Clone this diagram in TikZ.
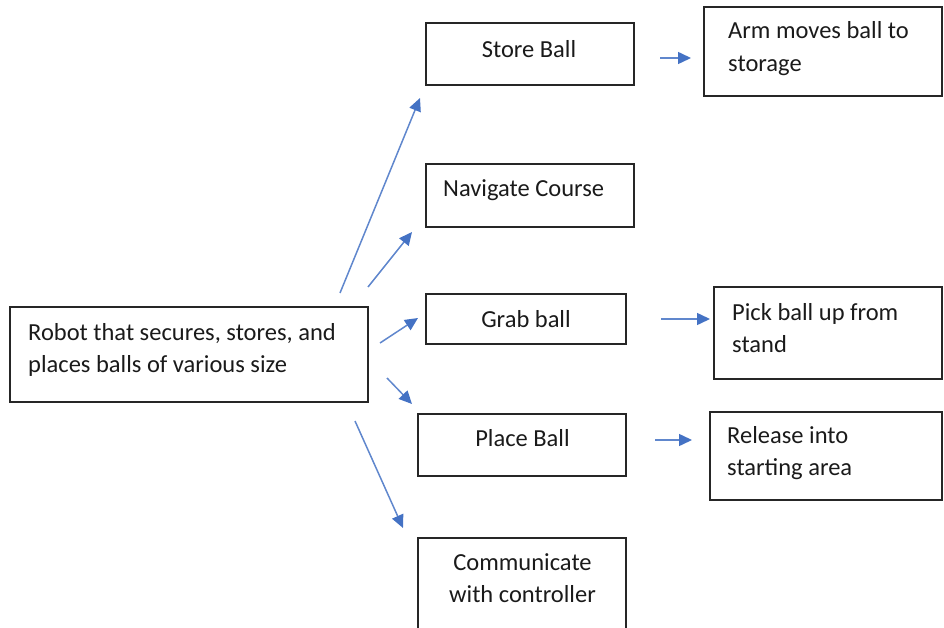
\documentclass[tikz,border=0pt]{standalone}
\usepackage{fontspec}
\setmainfont{Carlito}
\usetikzlibrary{arrows.meta}
\definecolor{arrowblue}{HTML}{4472C4}
\definecolor{txt}{HTML}{1A1A1A}
\tikzset{
  box/.style={draw=black!85, line width=1.6pt, inner sep=0pt},
  lbl/.style={text=txt, inner sep=0pt, font=\fontsize{24.5}{32.5}\selectfont},
  conn/.style={draw=arrowblue!85, line width=1.5pt,
    -{Triangle[length=13pt,width=12pt,color=arrowblue]}},
}
\begin{document}
\begin{tikzpicture}[x=1pt,y=-1pt]
\useasboundingbox (0,0) rectangle (944,628);
\clip (0,0) rectangle (944,628);
% boxes
\node[box, minimum width=358, minimum height=95] (root) at (189,354.5) {};
\node[box, minimum width=208, minimum height=62] (store) at (530,54) {};
\node[box, minimum width=208, minimum height=63] (nav) at (530,195.5) {};
\node[box, minimum width=238, minimum height=89] (arm) at (823,51.5) {};
\node[box, minimum width=200, minimum height=50] (grab) at (526,319) {};
\node[box, minimum width=228, minimum height=92] (pick) at (828,333) {};
\node[box, minimum width=208, minimum height=62] (place) at (522,445) {};
\node[box, minimum width=232, minimum height=88] (rel) at (826,456) {};
\node[box, minimum width=208, minimum height=120, anchor=north] (comm) at (522,537) {};
% texts (base anchor = baseline of last line)
\node[lbl, anchor=base west, align=left] (rootT) at (28,372.5) {Robot that secures, stores, and\\places balls of various size};
\node[lbl, anchor=base] (storeT) at (529,58) {Store Ball};
\node[lbl, anchor=base west] (navT) at (443,197) {Navigate Course};
\node[lbl, anchor=base west, align=left] (armT) at (728,71.5) {Arm moves ball to\\storage};
\node[lbl, anchor=base] (grabT) at (526,327) {Grab ball};
\node[lbl, anchor=base west, align=left] (pickT) at (732,352.5) {Pick ball up from\\stand};
\node[lbl, anchor=base] (placeT) at (522.5,446) {Place Ball};
\node[lbl, anchor=base west, align=left] (relT) at (727,475.5) {Release into\\starting area};
\node[lbl, anchor=base, align=center] (commT) at (522.5,602.5) {Communicate\\with controller};
% arrow endpoints
\coordinate (r1) at (340,293); \coordinate (s1) at (420,98);
\coordinate (r2) at (368,287); \coordinate (n1) at (412,232);
\coordinate (r3) at (380,343); \coordinate (g1) at (418,318);
\coordinate (r4) at (387,378); \coordinate (p1) at (412,404);
\coordinate (r5) at (355,421); \coordinate (c1) at (403,528);
\coordinate (s2) at (660,58);  \coordinate (a1) at (691,58);
\coordinate (g2) at (661,319); \coordinate (k1) at (710,319);
\coordinate (p2) at (655,440); \coordinate (e1) at (692,440);
\draw[conn] (r1) -- (s1);
\draw[conn] (r2) -- (n1);
\draw[conn] (r3) -- (g1);
\draw[conn] (r4) -- (p1);
\draw[conn] (r5) -- (c1);
\draw[conn] (s2) -- (a1);
\draw[conn] (g2) -- (k1);
\draw[conn] (p2) -- (e1);
\end{tikzpicture}
\end{document}
